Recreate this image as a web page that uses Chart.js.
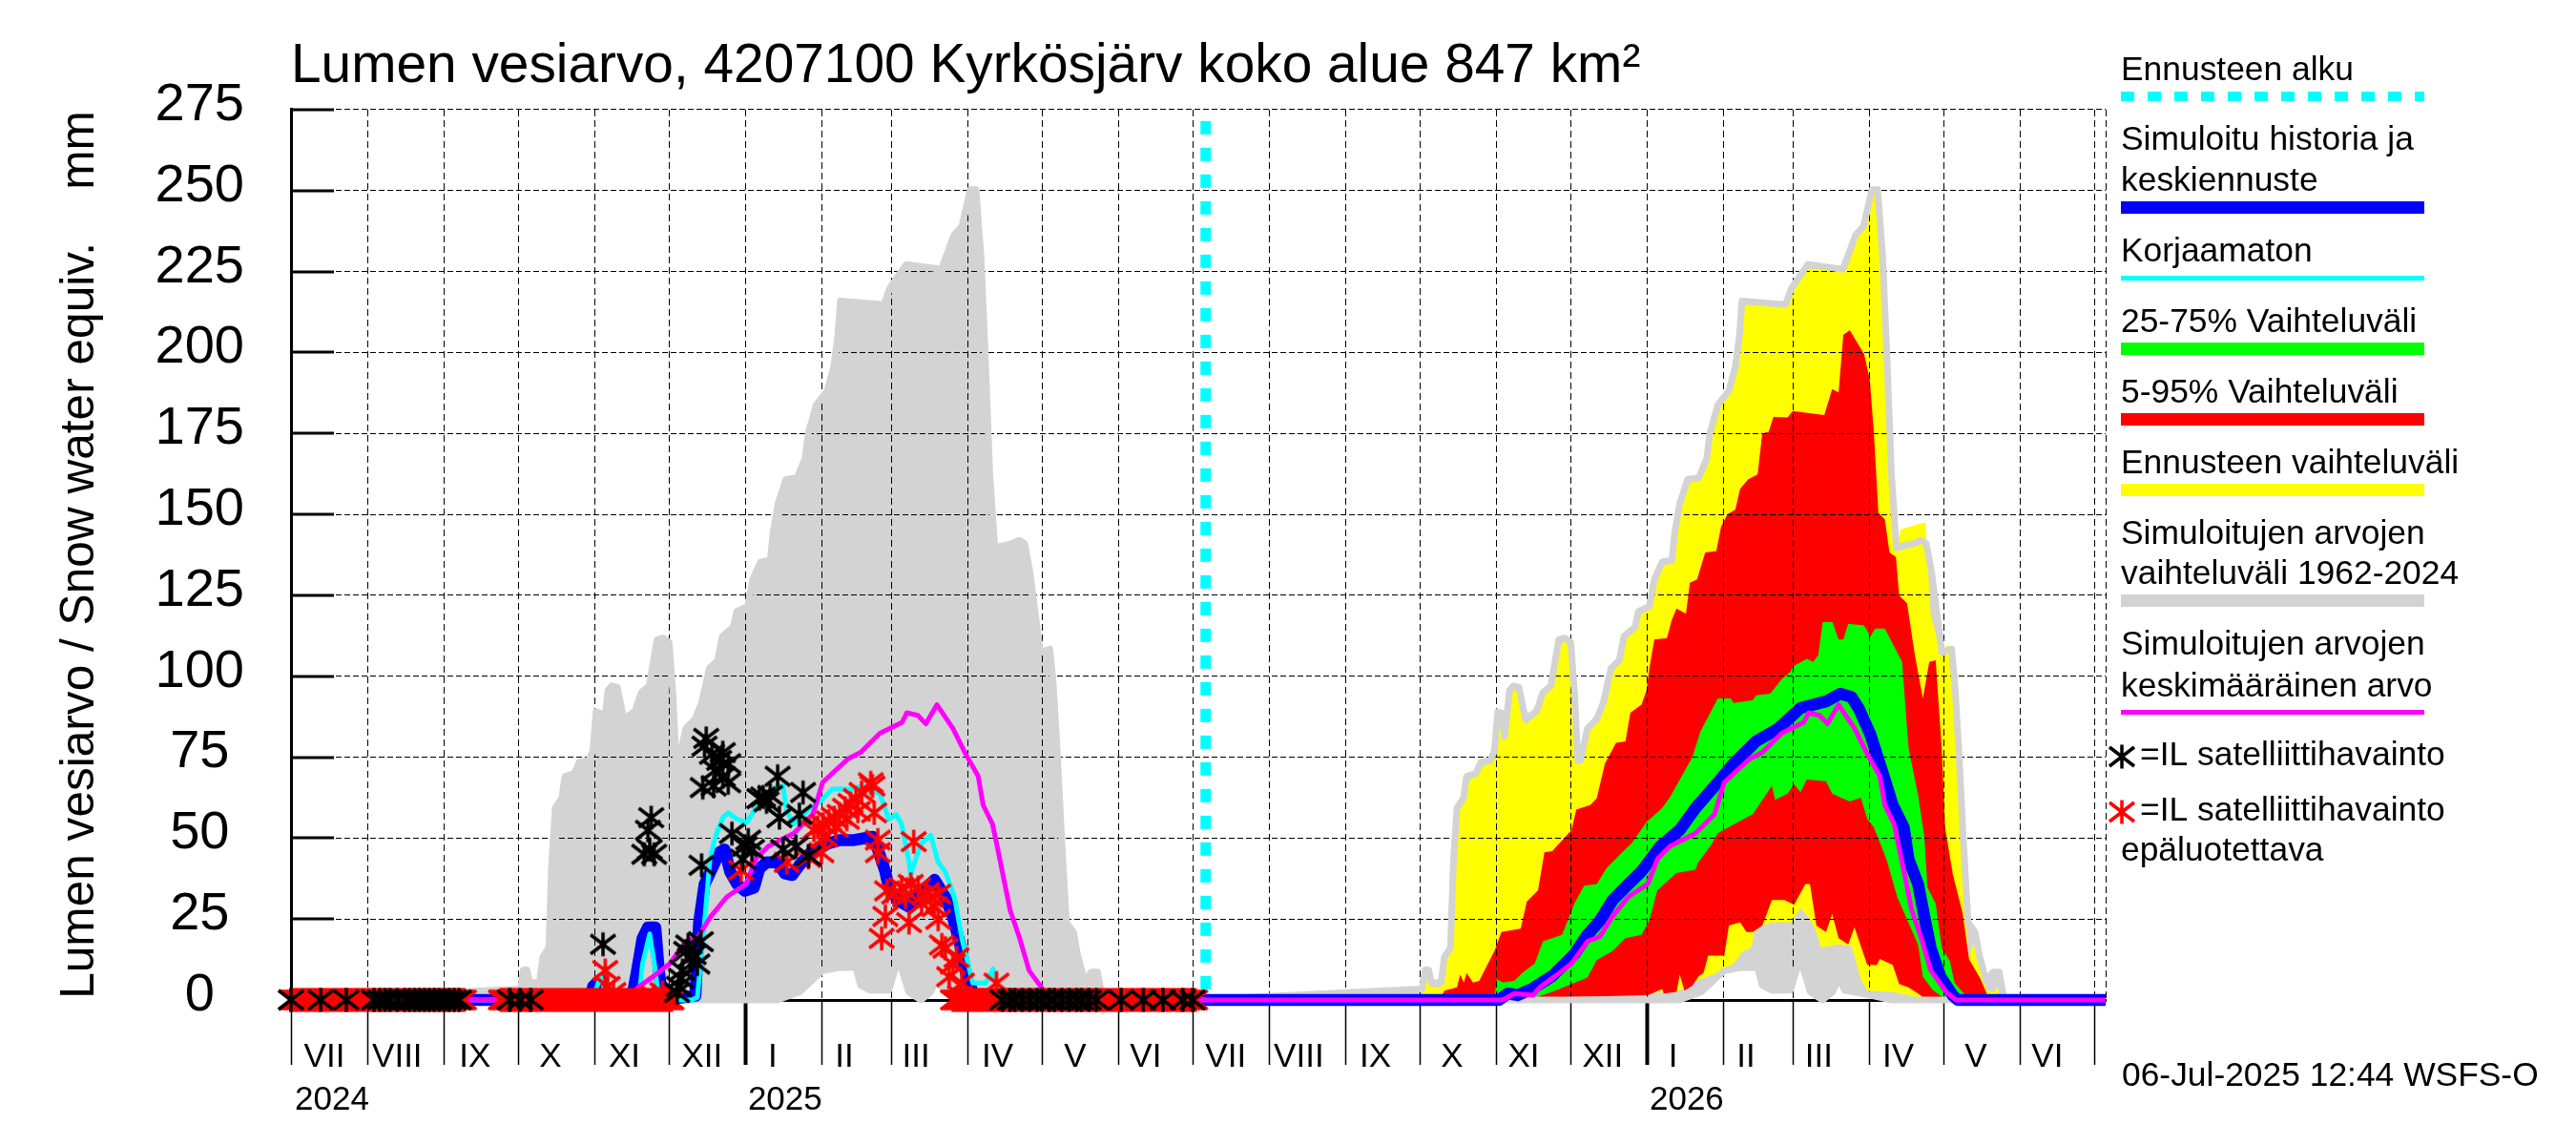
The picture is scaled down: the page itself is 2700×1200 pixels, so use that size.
<!DOCTYPE html>
<html>
<head>
<meta charset="utf-8">
<title>Lumen vesiarvo</title>
<script src="https://cdn.jsdelivr.net/npm/chart.js"></script>
<style>
  html, body { margin: 0; padding: 0; background: #fff; }
  canvas { display: block; }
</style>
</head>
<body>
<canvas id="myChart" width="2700" height="1200"></canvas>
<script>
// x values are days since 1 Jul 2024
const monthStarts = [0,31,62,92,123,153,184,215,243,274,304,335,365,396,427,457,488,518,549,580,608,639,669,700,730];
const januaryStarts = [184,549];
const plotEnd = 734.6;
const monthNames = ['VII','VIII','IX','X','XI','XII','I','II','III','IV','V','VI','VII','VIII','IX','X','XI','XII','I','II','III','IV','V','VI'];
const monthLabelDays = [13.5,43,74.5,105,135,166.4,195,224,253,286,317.4,346,378.4,408,439,470,499,531,559.5,589,618.5,650.6,682,711];
const yearNames = ['2024','2025','2026'];
const yearLabelDays = [16.6,200,565];
const forecastStart = 370.3;
const nextYear = 365;

// simulated range 1962-2024, one season, used for both years
const grayDays = [0,92.9,94.1,95.5,96.7,100.6,101.9,104.4,105.5,107,109.6,110.9,114.7,116.7,120.5,122.2,123.5,125,126.3,128.3,129.9,132.1,134.7,139.2,141.8,145,146.9,148.2,150.8,153.1,154.6,155.9,157,159.8,163.6,166.2,169.4,172.7,174.6,179.1,180.4,184.9,186.9,190.1,194,195.2,197.2,200.4,204.9,208.1,209.4,212.6,217.1,219.7,221.4,222.4,240,242.4,249,263.3,268.3,271.6,275,277.3,279.3,280.9,282.9,284.9,291.6,294.9,297,299.2,302,303.3,307.2,308.5,310.1,312,313.9,316.8,318.4,321.3,323.9,326.5,328.4,330,365];
const grayHigh = [0,3.4,9.3,9.3,5.4,5.4,13.2,16.2,41.7,59.3,62.3,69,70,73.5,74,77,89,88.7,81.4,95.6,97,96.6,86.8,89.2,95,97,105.4,111.3,111.8,110.3,94.6,74,74,83.8,86.8,91.7,102.5,104.9,112.3,115.2,120,121.6,129.9,135.3,135.8,144.6,153.4,160.8,161.3,167.2,175,183.8,188.2,195.6,205.4,215.9,214.8,219.8,227.2,225.7,236.2,239,250.3,250.3,230,201.8,162.3,139.7,140.9,142,141,131.9,115.2,107.4,108.4,98.5,77.9,49.4,23.9,20.9,14,5.7,8.6,8.6,0.8,0,0];
const grayLowDays = [0,197,206,215,221.6,228.7,230.6,234.5,242,245,246.7,250,255,259,261.5,264,274,283,365];
const grayLow = [0,0,2.5,9,10,10,4.5,3,3,10.5,11,2.5,0,2.5,6.5,3,1.5,0,0];

// forecast bands, days counted from 1 Jul 2025
const yellowDays = [90,92.9,94.1,95.5,96.7,100.6,101.9,104.4,105.5,107,109.6,110.9,114.7,116.7,120.5,122.2,123.5,125,126.3,128.3,129.9,132.1,134.7,139.2,141.8,145,146.9,148.2,150.8,153.1,154.6,155.9,157,159.8,163.6,166.2,169.4,172.7,174.6,179.1,180.4,184.9,186.9,190.1,194,195.2,197.2,200.4,204.9,208.1,209.4,212.6,217.1,219.7,221.4,222.4,240,242.4,249,263.3,268.3,271.6,275,277.3,279.3,280.9,282.9,284.9,286.6,291.6,296.6,298.8,303.3,305,306.5,308.5,310.1,311.7,312.7,314.3,317.5,318.4,321.3,324.6,325.8,327];
const yellowHigh = [0,2,8,8,4,4,12,15,40,58,61,68,69,72,73,76,88,87,80,94,96,95,85,88,94,96,104,110,110.5,109,93,73,73,83,86,91,101,104,111,114,119,120.5,129,134,135,144,152,160,160.5,166,174,183,187,195,204,215,214,219,226,225,235,238,249,249,229,201,161,139,145.4,146.5,147.6,119,105.9,109.5,109.3,97.5,77,50.4,27.8,13,21,13,3.2,2.3,4.2,0];
const yellowLowDays = [90,195.9,203.6,208.7,212.6,219,222.9,226.1,227.4,230.6,234.5,242.2,246.1,249.9,252.5,254.4,261.5,266.7,270.5,273.1,283.4,289.8,295,330];
const yellowLow = [0,2.5,5.9,7.4,8.3,11.3,15.2,16.2,21,23,24,24,28.4,25,21,16.2,17.2,16.7,6.4,2.9,2.5,1.5,0,0];

const redDays = [100,101.9,107,108.3,109.8,110.9,113.5,116,118.6,122.2,125,132.8,135.3,139.8,142.4,145.6,153.4,155.3,161.1,163.6,166.9,171.4,175.2,177.2,181.7,183.7,184.9,186.9,192,193.9,195.9,199.7,201.3,204.2,207.5,212,213.9,216.5,219.7,221.6,224.8,228.7,230.6,233.2,235.1,240.9,242.9,255.7,258.9,261.5,263.4,266,271.8,274.1,275.7,277.6,280.2,282.1,284.7,286,289.2,292.4,295.6,298.2,300.8,303.3,304.6,307.8,311.7,314.3,318.8,321.3,322];
const redHigh = [0,2.9,3.9,7.8,5.4,8.3,5.4,5.9,9.8,15.2,21,22,30.4,33.8,45.6,46,52.5,58.8,60.3,62.3,73,79.4,79.9,88.7,91.2,95.6,102.5,111.3,111.8,117.2,120.9,119.3,128.9,129.9,138.2,138.7,146.1,150,151.5,157.8,160.8,162.3,175,175.5,180.1,179.9,181.9,180.7,188.7,187.7,205.4,206.9,199.5,191.7,176,150.5,148.5,138.2,136.8,125,122.5,106.4,93.1,104.4,104.9,76.9,53.3,38.6,26.8,12.6,6.7,2.3,0];
const redLowDays = [100,184.3,190.1,190.7,195.9,197.2,199.1,202.3,204.9,206.8,208.7,215.2,217.1,221.6,224.2,226.8,230.6,234.5,239.6,243.5,248,249.9,252.5,256.4,258.9,261.5,265.4,267.9,273.1,277,278.2,283.4,286,289.8,295,296,325];
const redLow = [0,1.5,3.4,2,2.5,7.8,2.9,4.4,7.4,8.3,13.7,13.7,23,24,21,21,23,30.9,30.9,29.4,35.8,35.8,23,21,26.5,19.1,17.2,22.5,10.8,10.8,12.7,10.8,4.9,3.9,1.3,0,0];

const greenDays = [122,122.5,123.1,125.7,130.2,133.4,138.5,141.8,149.5,152.1,154.6,158.5,163.6,167.5,173.9,177.8,183.7,190.1,193.3,202.3,205.5,212.6,217.8,219,226.8,228.1,233.8,238.4,242.2,242.9,248.6,251.2,253.2,255.1,259,261.5,263.4,265.4,271.8,274.4,276.3,280.2,283.4,287.2,289.8,293.7,296.2,297.5,300.8,303.3,306.5,308.5,313,314.3];
const greenHigh = [0,2.5,6.4,5.4,5.9,8.3,11.3,18.1,20.1,25,29.9,35.3,35.8,40.7,45.6,48.5,54.9,59.3,62.7,75,82.8,93.1,93.1,91.7,92.6,94.1,94.6,99,101.5,102.9,105.4,104.4,106.4,116.7,116.7,111.3,111.3,116.2,115.7,112.3,114.7,114.7,110,104.4,77.9,63.2,50.4,34.7,29.8,16,12.1,5.2,1.3,0];
const greenLowDays = [122,137.9,145.6,153.4,159.8,163.6,170.1,175.2,181.7,184.9,188.1,195.8,203.5,204.8,210,212.6,218.4,226.8,234.5,235.8,240.9,243.5,246.1,248.6,256.4,258.9,266,270.5,273.1,275.7,280.8,285.3,289.8,293.7,295.6,299.5,302.7,305.3,316];
const greenLow = [0,0.5,2.5,4.9,6.9,12.3,15.2,19.1,20.1,24.5,33.8,39.2,40.2,42.6,48,51.5,53.9,57.4,66.2,61.8,63.7,66.7,64.2,68.1,67.6,63.7,61.3,62.5,55.9,53.4,43.6,31.7,23.9,17,7.2,3.2,1.3,0,0];

// simulated history and median forecast
const blueHistoryDays = [0,120.9,122.3,125.3,128.2,137.9,140.1,142.3,144.5,147.5,148.9,150.4,163.7,165.2,167.4,170.4,173.3,175.5,177.8,180.7,183.7,187.4,189.6,192.5,197,199.9,202.9,205.8,210.3,217.7,222.1,228,235.4,237.6,240.6,242,245.7,250.2,254.6,260.5,264.9,267.9,270.9,273.8,277.5,365];
const blueHistory = [0,0,4.2,6.2,0,0,9.1,19,22.4,22.4,9.1,0,1.3,23.9,35.7,40.6,45.5,46.5,39.6,35.7,33.7,34.7,40.6,42.5,42.5,39.1,38.6,41.6,45.5,48.4,49.4,49.4,50.4,46.5,39.6,34.7,30.7,28.8,32.7,37.1,31.7,25.8,17,6.2,0,0];
const blueForecastDays = [0,124,127.6,131.5,137.3,145.6,150.8,154.6,159.8,164.9,170.1,176.5,181.7,189.4,197.2,203.6,212.6,219,228.1,237.1,246.1,256.4,262.2,266.7,269.9,274.4,280.2,283.4,287.9,289.8,293.7,296.2,298.8,302.7,307.8,309.8,369.6];
const blueForecast = [0,0,2,1.5,3.4,7.4,11.3,14.2,20.1,24.5,30.9,35.8,39.7,47.5,52.5,59.3,67.2,73,79.9,83.8,90.2,92.2,94.6,93.6,89.7,81.9,68.1,60.2,53.3,43.5,35.7,25.8,16,7.2,1.3,0,0];

// uncorrected simulation, only up to the forecast start
const cyanDays = [0,120.9,123,125.3,128.2,140.8,142.3,145.2,147.5,148.9,162.2,164.5,167.4,169.6,171.8,174.8,177,180.7,184.4,187.4,191,197,199.2,200.7,203.6,208.8,214.7,219.1,226.5,231,238.3,242,245,247.2,250.2,250.9,253.1,255.3,259,262,264.9,268.6,271.6,276,281.2,284.2,285.6,288.6,370.3];
const cyanValues = [0,0,2.3,7.2,0,0.3,11.1,20.4,9.1,0,0,0.8,23.9,43.5,50.4,56.3,57.8,55.8,54.8,58.3,62.7,66.1,66.1,58.3,54.3,58.3,61.7,65.1,65.1,66.1,63.7,55.8,57.3,54.3,42.5,38.6,44,48.4,50.9,42.5,39.6,31.7,19,5.2,5.2,9.6,5.2,0,0];

// mean of simulated values, one season, used for both years
const meanDays = [0,125,126.3,130.2,137.9,140.5,146.9,153.4,159.8,164.9,170.1,176.5,184.2,188.2,193.3,203.6,211.3,215.2,225.5,230.6,238.4,247.4,249.3,253.8,257,261.5,268,273.1,278.2,280.2,284,287.2,291.1,295,298.8,305.3,309.1,365];
const meanValues = [0,0,0.3,2,1.5,3.9,7.4,11.3,18.1,19.6,26,31.9,35.8,43.6,47.5,51.5,57.4,67.2,74.5,76.5,82.4,85.8,88.7,87.9,85.3,91.2,83.8,76,69.1,60.2,54.3,42.5,27.8,19,9.1,2.3,0,0];

// satellite observations, the snowless ones all sit on the zero line
const blackRowDays = [0,12,22.4,33.6,36,38,40,43,46,48,50,52,54,56,58,60,62,64,66,68,88.6,92.7,97,288,291,293,296,299,302,304,307,309,312,315,318,320,323,326,336,345,353,361,365];
const blackStarDays = [126.3,145.8,144.5,143,147,145.2,168.1,167.4,170.4,174.8,173.3,171.8,177,166.7,171.1,177,174.8,166.2,178.5,185.1,183.7,182.9,186.6,191.1,189.6,192.5,194,197,197.7,207.3,205.8,199.2,204.4,209.5,157,157.8,158.5,161.5,160.8,165.9,164.5,160,156.3,163];
const blackStarValues = [17.2,56.3,52.4,45,45,46.5,80.8,78.4,75.9,76.4,74,71,73,65.6,66.1,67.1,69,41.6,51.4,49.4,47.4,43.5,46.5,62.7,62.2,61.2,63.2,69.1,56.3,64.1,57.3,46.5,47.4,44.5,4.2,6.7,9.1,13,17,18,11.1,15,2.3,14];
const redRowDays = [0,1,2,3,4,5,6,7,8,9,10,11,12,13,14,15,16,17,18,19,20,21,22,23,24,25,26,27,28,29,30,31,32,33,34,35,36,37,38,39,40,41,42,43,44,45,46,47,48,49,50,51,52,53,54,55,56,57,58,59,60,61,62,63,64,65,66,67,68,69,70,
  85,86,87,88,89,90,91,92,93,94,95,96,97,98,99,100,101,102,103,104,105,106,107,108,109,110,111,112,113,114,115,116,117,118,119,120,121,122,123,124,125,126,127,128,129,130,131,132,133,134,135,136,137,138,139,140,141,142,143,144,145,146,147,148,149,150,151,152,153,154,
  268,269,270,271,272,273,274,275,276,277,278,279,280,281,282,283,284,285,286,287,288,289,290,291,292,293,294,295,296,297,298,299,300,301,302,303,304,305,306,307,308,309,310,311,312,313,314,315,316,317,318,319,320,321,322,323,324,325,326,327,328,329,330,331,332,333,334,335,336,337,338,339,340,341,342,343,344,345,346,347,348,349,350,351,352,353,354,355,356,357,358,359,360,361,362,363,364,365,366];
const redStarDays = [211.7,213.2,215.4,217.7,219.9,222.1,224.3,226.5,228.7,231,234.7,235.4,216.2,220.6,225,229.5,214.7,182.2,200.7,209.5,236.1,237.6,237.6,252.1,241.3,244.2,247.2,250.9,253.9,256.8,259,262,255.3,248.7,260.5,240.6,239.1,250.2,262,264.9,263.5,267.9,269.4,266.4,270.9,271.6,285.6,127.2,128.2,130.5,146.7,150.4];
const redStarValues = [52.4,53.3,54.3,55.3,56.3,57.3,59.2,60.7,62.2,64.1,67.1,66.1,50.4,53.3,55.8,58.3,45.5,40.1,42.5,44,57.8,45.5,49.4,48.9,33.7,32.7,34.7,35.7,34.7,32.7,31.7,32.7,29.8,31.7,28.8,25.8,19,23.9,24.9,16,17,11.1,13.1,7.2,1.3,5.2,5.2,9.1,4.2,2.3,1.3,2.3];

const legendTexts = [
  ['Ennusteen alku', 84],
  ['Simuloitu historia ja', 157],
  ['keskiennuste', 200],
  ['Korjaamaton', 274],
  ['25-75% Vaihteluväli', 348],
  ['5-95% Vaihteluväli', 422],
  ['Ennusteen vaihteluväli', 496],
  ['Simuloitujen arvojen', 570],
  ['vaihteluväli 1962-2024', 612],
  ['Simuloitujen arvojen', 686],
  ['keskimääräinen arvo', 730],
  ['epäluotettava', 902]
];
const legendBars = [
  ['#0000ff', 211, 13],
  ['#00ffff', 289, 5],
  ['#00ff00', 359, 13],
  ['#ff0000', 433, 13],
  ['#ffff00', 507, 13],
  ['#d3d3d3', 623, 13],
  ['#ff00ff', 744, 5]
];

const FONT = '"Liberation Sans", Arial, sans-serif';

function points(days, values, offset){
  offset = offset || 0;
  return days.map(function(d, i){ return {x: d + offset, y: values[i]}; });
}
function twoYears(days, values){
  return points(days, values).concat(points(days, values, nextYear), [{x: plotEnd, y: 0}]);
}
function zeroRow(days){
  return days.map(function(d){ return {x: d, y: 0}; });
}

// six armed asterisk used for the observations
function makeStar(color){
  const c = document.createElement('canvas');
  c.width = 30;
  c.height = 30;
  const g = c.getContext('2d');
  g.strokeStyle = color;
  g.lineWidth = 3.5;
  g.beginPath();
  g.moveTo(15, 2.5); g.lineTo(15, 27.5);
  g.moveTo(2, 5); g.lineTo(28, 25);
  g.moveTo(2, 25); g.lineTo(28, 5);
  g.stroke();
  return c;
}
const blackStar = makeStar('#000000');
const redStar = makeStar('#ff0000');

function lineSet(data, color, width, extra){
  return Object.assign({
    data: data,
    showLine: true,
    borderColor: color,
    borderWidth: width,
    borderJoinStyle: 'round',
    backgroundColor: color,
    pointRadius: 0,
    fill: false,
    clip: false
  }, extra || {});
}
function starSet(data, image){
  return {data: data, showLine: false, pointStyle: image, pointRadius: 15, clip: false};
}
function bandLow(data){
  return {data: data, showLine: true, borderWidth: 0, pointRadius: 0, fill: false, clip: false};
}
function bandHigh(data, color){
  return {data: data, showLine: true, borderWidth: 0, pointRadius: 0, backgroundColor: color, fill: '-1', clip: false};
}

// first dataset ends up on top
const datasets = [
  starSet(points(blackStarDays, blackStarValues).concat(zeroRow(blackRowDays)), blackStar),
  starSet(points(redStarDays, redStarValues).concat(zeroRow(redRowDays)), redStar),
  lineSet(twoYears(meanDays, meanValues), '#ff00ff', 5),
  lineSet(points(cyanDays, cyanValues), '#00ffff', 5),
  lineSet(points(blueHistoryDays, blueHistory).concat(points(blueForecastDays, blueForecast, nextYear), [{x: plotEnd, y: 0}]), '#0000ff', 12.5),
  lineSet([{x: forecastStart, y: 271.5}, {x: forecastStart, y: 0}], '#00ffff', 11, {borderDash: [14, 14]}),
  bandLow(points(greenLowDays, greenLow, nextYear)),
  bandHigh(points(greenDays, greenHigh, nextYear), '#00ff00'),
  bandLow(points(redLowDays, redLow, nextYear)),
  bandHigh(points(redDays, redHigh, nextYear), '#ff0000'),
  bandLow(points(yellowLowDays, yellowLow, nextYear)),
  bandHigh(points(yellowDays, yellowHigh, nextYear), '#ffff00'),
  lineSet(twoYears(grayLowDays, grayLow), '#d3d3d3', 7),
  lineSet(twoYears(grayDays, grayHigh), '#d3d3d3', 7, {fill: '-1', backgroundColor: '#d3d3d3'})
];

// black inside ticks on the y axis
const innerTicks = {
  id: 'innerTicks',
  beforeDatasetsDraw: function(chart){
    const ctx = chart.ctx;
    const y = chart.scales.y;
    ctx.save();
    ctx.strokeStyle = '#000';
    ctx.lineWidth = 3;
    y.ticks.forEach(function(t){
      const p = Math.round(y.getPixelForValue(t.value));
      ctx.beginPath();
      ctx.moveTo(chart.chartArea.left, p);
      ctx.lineTo(chart.chartArea.left + 45, p);
      ctx.stroke();
    });
    ctx.restore();
  }
};

// the legend of this chart has its own layout, samples under the texts
const sideLegend = {
  id: 'sideLegend',
  afterDraw: function(chart){
    const ctx = chart.ctx;
    ctx.save();
    ctx.fillStyle = '#000';
    ctx.font = '35.4px ' + FONT;
    ctx.textBaseline = 'alphabetic';
    legendTexts.forEach(function(t){ ctx.fillText(t[0], 2223, t[1]); });
    ctx.fillText('=IL satelliittihavainto', 2243, 802);
    ctx.fillText('=IL satelliittihavainto', 2243, 860);
    ctx.fillText('06-Jul-2025 12:44 WSFS-O', 2224, 1138);
    legendBars.forEach(function(b){
      ctx.fillStyle = b[0];
      ctx.fillRect(2223, b[1], 318, b[2]);
    });
    ctx.strokeStyle = '#00ffff';
    ctx.lineWidth = 10;
    ctx.setLineDash([14, 14]);
    ctx.beginPath();
    ctx.moveTo(2223, 101);
    ctx.lineTo(2541, 101);
    ctx.stroke();
    ctx.drawImage(blackStar, 2209, 778);
    ctx.drawImage(redStar, 2209, 836);
    ctx.restore();
  }
};

const config = {
  type: 'scatter',
  data: {datasets: datasets},
  plugins: [innerTicks, sideLegend],
  options: {
    responsive: false,
    animation: false,
    devicePixelRatio: 1,
    layout: {padding: {top: 36, right: 493, left: 0, bottom: 0}},
    plugins: {
      filler: {drawTime: 'beforeDraw'},
      legend: {display: false},
      tooltip: {enabled: false},
      title: {
        display: true,
        text: 'Lumen vesiarvo, 4207100 Kyrkösjärv koko alue 847 km²',
        align: 'start',
        fullSize: false,
        color: '#000',
        font: {family: FONT, size: 56.8, weight: 'normal', lineHeight: 1.2},
        padding: {top: 0, bottom: 10.8}
      }
    },
    scales: {
      x: {
        type: 'linear',
        min: 0,
        max: plotEnd,
        afterFit: function(s){ s.height = 152; },
        afterBuildTicks: function(s){
          const t = [];
          monthStarts.forEach(function(d){ t.push({value: d, kind: 'month', text: ''}); });
          t.push({value: plotEnd, kind: 'end', text: ''});
          monthNames.forEach(function(n, i){ t.push({value: monthLabelDays[i], kind: 'label', text: n}); });
          yearNames.forEach(function(n, i){ t.push({value: yearLabelDays[i], kind: 'label', text: ['', n]}); });
          s.ticks = t;
        },
        border: {display: true, color: '#000', width: 3, dash: [7, 4]},
        grid: {
          color: '#000',
          tickColor: '#000',
          tickLength: 68,
          lineWidth: function(c){ return c.tick && c.tick.kind !== 'label' ? 1 : 0; },
          tickWidth: function(c){
            if(!c.tick || c.tick.kind !== 'month'){ return 0; }
            return januaryStarts.indexOf(c.tick.value) >= 0 ? 4 : 1.5;
          }
        },
        ticks: {
          autoSkip: false,
          maxRotation: 0,
          minRotation: 0,
          padding: -30,
          color: '#000',
          font: {family: FONT, size: 35, lineHeight: 1.286},
          callback: function(value, index, ticks){ return ticks[index].text; }
        }
      },
      y: {
        min: 0,
        max: 275,
        afterFit: function(s){ s.width = 305; },
        title: {
          display: true,
          text: 'Lumen vesiarvo / Snow water equiv.    mm',
          color: '#000',
          font: {family: FONT, size: 49.6, lineHeight: 1.2},
          padding: {top: 55, bottom: 0}
        },
        border: {display: true, color: '#000', width: 3, dash: [6, 3]},
        grid: {color: '#000', lineWidth: 1, drawTicks: false},
        ticks: {
          stepSize: 25,
          padding: 49,
          crossAlign: 'center',
          labelOffset: -4.5,
          color: '#000',
          font: {family: FONT, size: 56}
        }
      }
    }
  }
};

const myChart = new Chart(document.getElementById('myChart'), config);
</script>
</body>
</html>
